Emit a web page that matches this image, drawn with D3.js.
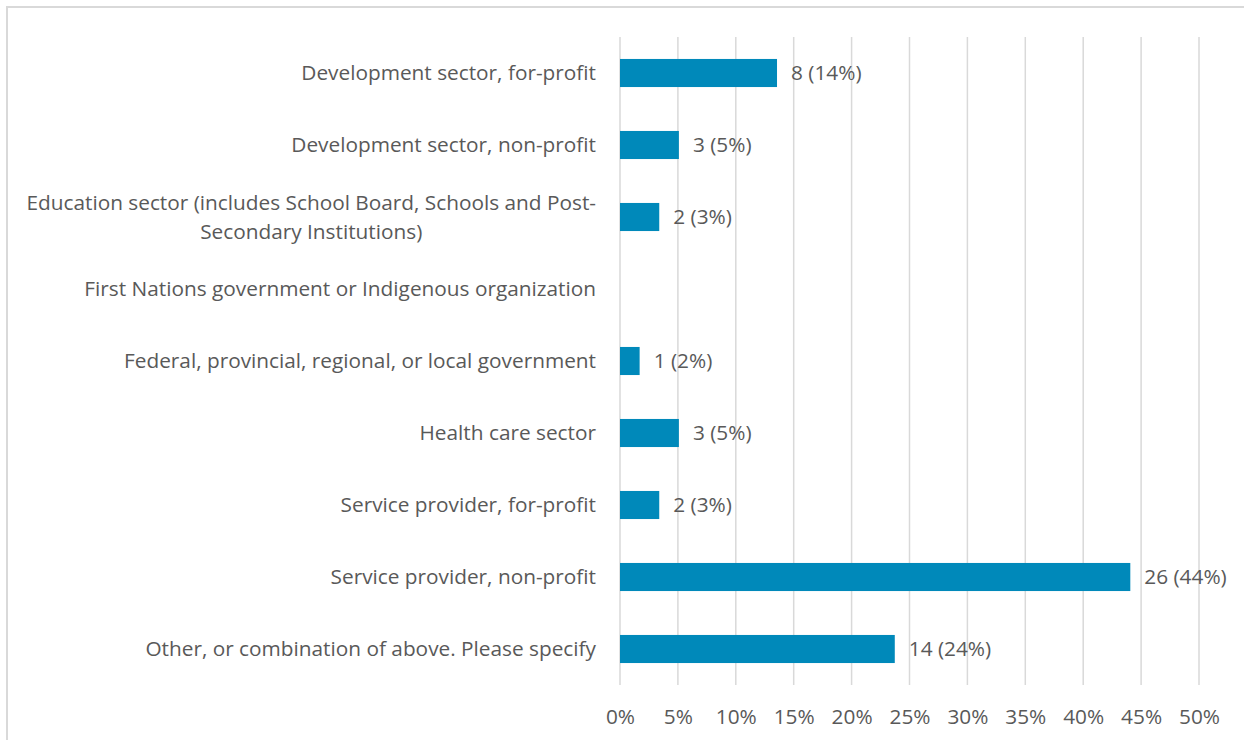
<!DOCTYPE html>
<html>
<head>
<meta charset="utf-8">
<script src="https://cdn.jsdelivr.net/npm/d3@7"></script>
<style>
  html, body { margin: 0; padding: 0; background: #fff; }
  svg { display: block; }
  text { font-family: "Open Sans", Lato, sans-serif; fill: #595959; }
</style>
</head>
<body>
<svg id="chart" width="1244" height="740"></svg>
<script>
const categories = [
  ["Development sector, for-profit"],
  ["Development sector, non-profit"],
  ["Education sector (includes School Board, Schools and Post-", "Secondary Institutions)"],
  ["First Nations government or Indigenous organization"],
  ["Federal, provincial, regional, or local government"],
  ["Health care sector"],
  ["Service provider, for-profit"],
  ["Service provider, non-profit"],
  ["Other, or combination of above. Please specify"]
];
const counts = [8, 3, 2, 0, 1, 3, 2, 26, 14];
const percents = [14, 5, 3, 0, 2, 5, 3, 44, 24];
const total = 59;
const tickValues = [0, 0.05, 0.10, 0.15, 0.20, 0.25, 0.30, 0.35, 0.40, 0.45, 0.50];

const FS = 20.8;
const svg = d3.select("#chart");
const W = 1244, H = 740;
const plot = { left: 620, right: 1199, top: 37, bottom: 685 };

svg.append("rect")
  .attr("x", 7).attr("y", 7)
  .attr("width", W + 10).attr("height", H + 10)
  .attr("fill", "none").attr("stroke", "#d9d9d9").attr("stroke-width", 2);

const x = d3.scaleLinear().domain([0, 0.5]).range([plot.left, plot.right]);
const y = d3.scaleBand().domain(d3.range(categories.length))
  .range([plot.top, plot.bottom]).paddingInner(0.61).paddingOuter(0.305);

svg.append("g").selectAll("line").data(tickValues).join("line")
  .attr("x1", d => x(d)).attr("x2", d => x(d))
  .attr("y1", plot.top).attr("y2", plot.bottom)
  .attr("stroke", "#d9d9d9").attr("stroke-width", 1.5);

const xAxis = d3.axisBottom(x).tickValues(tickValues)
  .tickFormat(d3.format(".0%")).tickSize(0).tickPadding(0);
const gx = svg.append("g").attr("transform", `translate(0, ${plot.bottom + 24})`).call(xAxis);
gx.select(".domain").remove();
gx.selectAll("text").attr("font-size", FS).attr("fill", "#595959")
  .style("font-family", "'Open Sans', Lato, sans-serif").attr("dy", "0.71em");

svg.append("g").selectAll("rect").data(counts.map((c, i) => ({ c, i }))).join("rect")
  .attr("x", x(0))
  .attr("y", d => y(d.i))
  .attr("width", d => x(d.c / total) - x(0))
  .attr("height", y.bandwidth())
  .attr("fill", "#0089BA")
  .attr("display", d => d.c > 0 ? null : "none");

svg.append("g").selectAll("text")
  .data(counts.map((c, i) => ({ c, i })).filter(d => d.c > 0)).join("text")
  .attr("x", d => x(d.c / total) + 14)
  .attr("y", d => y(d.i) + y.bandwidth() / 2)
  .attr("dy", "0.35em")
  .attr("font-size", FS)
  .text(d => `${d.c} (${percents[d.i]}%)`);

const cg = svg.append("g");
const labelX = 596;
categories.forEach((lines, i) => {
  const cy = y(i) + y.bandwidth() / 2;
  const lh = 29;
  if (lines.length === 1) {
    cg.append("text").attr("font-size", FS).attr("text-anchor", "end")
      .attr("x", labelX).attr("y", cy).attr("dy", "0.35em").text(lines[0]);
  } else {
    const tmp = cg.append("text").attr("font-size", FS).text(lines[0]);
    const w0 = tmp.node().getComputedTextLength();
    tmp.remove();
    const center = labelX - w0 / 2;
    lines.forEach((ln, k) => {
      cg.append("text").attr("font-size", FS).attr("text-anchor", "middle")
        .attr("x", center)
        .attr("y", cy + (k - (lines.length - 1) / 2) * lh)
        .attr("dy", "0.35em")
        .text(ln);
    });
  }
});
</script>
</body>
</html>
